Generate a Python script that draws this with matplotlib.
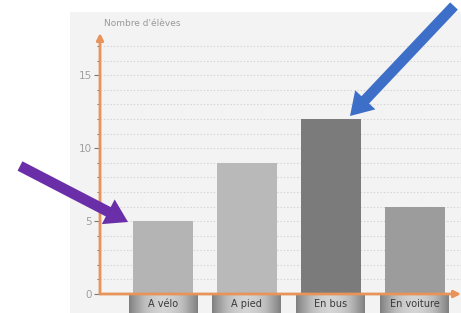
import numpy as np
import matplotlib
matplotlib.use('Agg')
import matplotlib.pyplot as plt
from matplotlib.patches import Rectangle

# ── Data ──────────────────────────────────────────────────────────────────────
categories = ['A vélo', 'A pied', 'En bus', 'En voiture']
eleves     = [5, 9, 12, 6]
bar_colors = ['#b4b4b4', '#b9b9b9', '#7b7b7b', '#9c9c9c']
y_ticks    = [0, 5, 10, 15]
y_label    = "Nombre d'élèves"

ORANGE = '#e8935a'
W, H = 461, 313

fig = plt.figure(figsize=(W / 100, H / 100), dpi=100)
fig.patch.set_facecolor('white')

# light panel behind the chart
fig.add_artist(Rectangle((70 / W, 0), 1 - 70 / W, (H - 12) / H,
                         transform=fig.transFigure, fc='#f3f3f3', ec='none', zorder=0))

ax = fig.add_axes([100 / W, 19 / H, (W - 100) / W, (294 - 33) / H])
ax.set_facecolor('none')

x = np.arange(len(categories))
ax.bar(x, eleves, width=0.71, color=bar_colors, zorder=3)

ax.set_xlim(-0.75, 3.55)
ax.set_ylim(0, 17.9)

# dotted grid on every unit
for v in range(1, 18):
    ax.axhline(v, color='#d2d2d2', lw=0.8, ls=(0, (1.2, 1.8)), zorder=1)

for s in ax.spines.values():
    s.set_visible(False)

ax.set_xticks([])
ax.set_yticks(y_ticks)
ax.set_yticklabels([str(t) for t in y_ticks], fontsize=7.5, color='#a0a0a0')
ax.set_yticks(range(0, 18), minor=True)
ax.tick_params(axis='y', which='major', length=4, width=0.8, color='#777777', pad=2)
ax.tick_params(axis='y', which='minor', length=2, width=0.8, color='#777777')

# orange axes with arrow heads
ax.annotate('', xy=(0, 1.0), xytext=(0, 0), xycoords='axes fraction',
            arrowprops=dict(arrowstyle='-|>', color=ORANGE, lw=2,
                            mutation_scale=10, shrinkA=0, shrinkB=0), zorder=5)
ax.annotate('', xy=(1.0, 0), xytext=(0, 0), xycoords='axes fraction',
            arrowprops=dict(arrowstyle='-|>', color=ORANGE, lw=2,
                            mutation_scale=10, shrinkA=0, shrinkB=0), zorder=5)

ax.text(0.01, 1.02, y_label, transform=ax.transAxes, fontsize=6.5,
        color='#999999', ha='left', va='bottom')

# category labels in grey gradient boxes
grad = np.abs(np.linspace(-1, 1, 64)) ** 1.8
grad = np.tile(grad, (8, 1))
for i, cat in enumerate(categories):
    ax.imshow(grad, cmap='Greys', vmin=-0.9, vmax=2.4, aspect='auto',
              extent=[i - 0.41, i + 0.41, -1.32, -0.1], clip_on=False, zorder=4)
    ax.text(i, -0.72, cat, ha='center', va='center', fontsize=7,
            color='#3a3a3a', clip_on=False, zorder=6)

# pointing arrows
fig_arrow = dict(arrowstyle='simple,head_length=0.8,head_width=1.0,tail_width=0.38',
                 mutation_scale=20, shrinkA=0, shrinkB=0, lw=0)
ax.annotate('', xy=(128, H - 222), xytext=(20, H - 166), xycoords='figure pixels',
            arrowprops=dict(fig_arrow, color='#6a2fa8'), zorder=10)
ax.annotate('', xy=(350, H - 116), xytext=(454, H - 6), xycoords='figure pixels',
            arrowprops=dict(fig_arrow, color='#3d6fc9'), zorder=10)

fig.savefig('out.png', dpi=100)
